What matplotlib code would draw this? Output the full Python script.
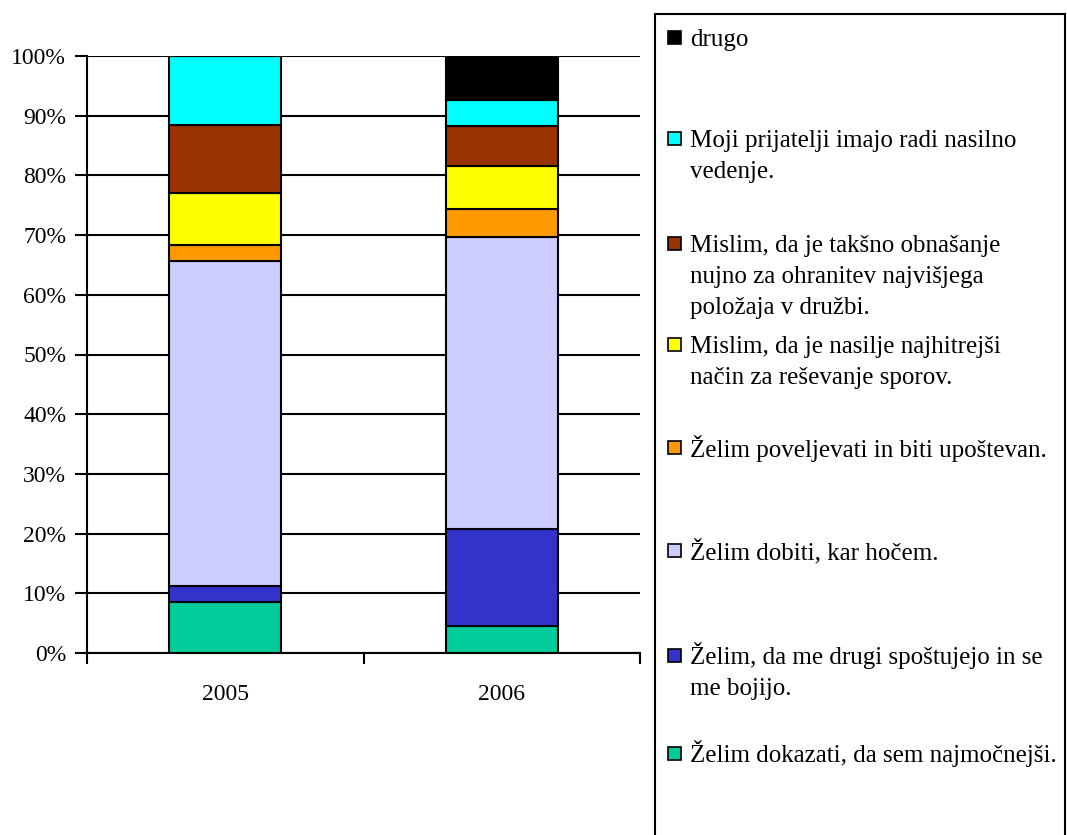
import matplotlib
matplotlib.use('Agg')
import matplotlib.pyplot as plt
from matplotlib.patches import Rectangle
import numpy as np

plt.rcParams['font.family'] = ['Liberation Serif', 'DejaVu Serif']

years = ['2005', '2006']
# segments from bottom to top, percent
categories = [
    'Želim dokazati, da sem najmočnejši.',
    'Želim, da me drugi spoštujejo in se\nme bojijo.',
    'Želim dobiti, kar hočem.',
    'Želim poveljevati in biti upoštevan.',
    'Mislim, da je nasilje najhitrejši\nnačin za reševanje sporov.',
    'Mislim, da je takšno obnašanje\nnujno za ohranitev najvišjega\npoložaja v družbi.',
    'Moji prijatelji imajo radi nasilno\nvedenje.',
    'drugo',
]
values_2005 = [8.6, 2.7, 54.4, 2.7, 8.7, 11.4, 11.5, 0.0]
values_2006 = [4.6, 16.1, 49.0, 4.7, 7.1, 6.7, 4.5, 7.3]
colors = ['#00CC99', '#3333CC', '#CCCCFF', '#FF9900', '#FFFF00', '#993300', '#00FFFF', '#000000']

W, H = 1067, 835
fig = plt.figure(figsize=(W / 100, H / 100), dpi=100)
ax = fig.add_axes([87 / W, 1 - 653 / H, (640 - 87) / W, (653 - 56) / H])

x = np.arange(len(years))
bottom = np.zeros(len(years))
for i, cat in enumerate(categories):
    vals = np.array([values_2005[i], values_2006[i]])
    ax.bar(x, vals, bottom=bottom, width=0.405, color=colors[i],
           edgecolor='black', linewidth=1.5, zorder=3)
    bottom += vals

ax.set_xlim(-0.5, 1.5)
ax.set_ylim(0, 100)
ax.set_yticks(np.arange(0, 101, 10))
ax.set_yticklabels([f'{v}%' for v in range(0, 101, 10)])
ax.yaxis.grid(True, color='black', linewidth=1.5, zorder=0)
ax.set_xticks(x)
ax.set_xticklabels(years)
ax.set_xticks([-0.5, 0.5, 1.5], minor=True)
ax.tick_params(axis='x', which='major', length=0, pad=22, labelsize=17)
ax.tick_params(axis='x', which='minor', length=8, width=1.5, direction='out')
ax.tick_params(axis='y', length=9, width=1.5, direction='out', pad=6, labelsize=17)
for s in ['top', 'right']:
    ax.spines[s].set_visible(False)
for s in ['left', 'bottom']:
    ax.spines[s].set_linewidth(1.5)

# legend box (Excel style, fixed positions)
fig.patches.append(Rectangle((655 / W, -0.05), (1065 - 655) / W, 1.05 - 14 / H,
                             transform=fig.transFigure, facecolor='none',
                             edgecolor='black', linewidth=1.5))
legend_y = [37, 138, 243, 344, 448, 550, 655, 753]  # marker centres, px from top
line_step = 31
order = list(range(len(categories)))[::-1]
for yy, idx in zip(legend_y, order):
    fig.patches.append(Rectangle((668 / W, 1 - (yy + 6.5) / H), 13 / W, 13 / H,
                                 transform=fig.transFigure, facecolor=colors[idx],
                                 edgecolor='black', linewidth=1.2))
    for k, line in enumerate(categories[idx].split('\n')):
        fig.text(690 / W, 1 - (yy + 9 + k * line_step) / H, line, fontsize=18,
                 va='baseline', ha='left')

fig.savefig('out.png', dpi=100)
